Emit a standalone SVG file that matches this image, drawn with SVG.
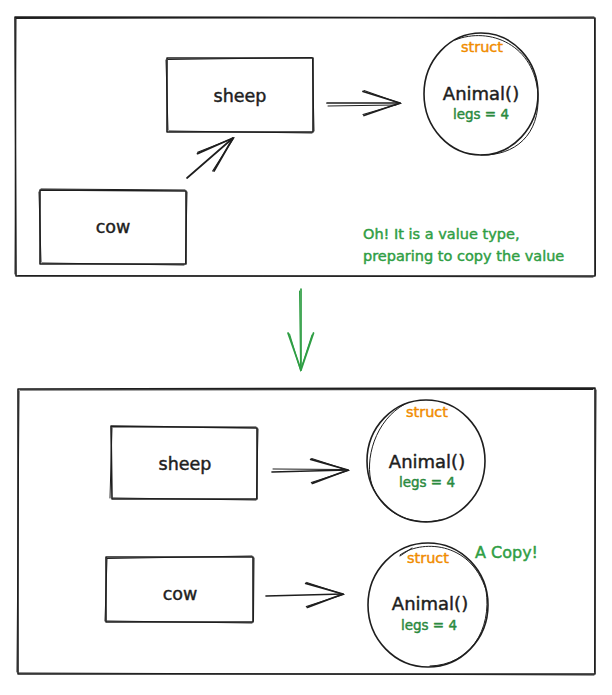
<svg xmlns="http://www.w3.org/2000/svg" width="612" height="695" viewBox="0 0 612 695">
<defs>
<marker id="head" markerUnits="userSpaceOnUse" viewBox="-45 -20 50 40" markerWidth="50" markerHeight="40" refX="0" refY="0" orient="auto">
<path d="M-37,-11.5 L0,0 L-36,12.5" fill="none" stroke="#1e1e1e" stroke-width="1.8" stroke-linecap="round" stroke-linejoin="round"/>
<path d="M-36,-12.5 L0.5,0.5 L-37,11.5" fill="none" stroke="#1e1e1e" stroke-width="1.1" stroke-linecap="round"/>
</marker>
<marker id="headg" markerUnits="userSpaceOnUse" viewBox="-45 -20 50 40" markerWidth="50" markerHeight="40" refX="0" refY="0" orient="auto">
<path d="M-37,-12.5 L0,0 L-37,13" fill="none" stroke="#2f9e44" stroke-width="1.8" stroke-linecap="round" stroke-linejoin="round"/>
<path d="M-35,-11 L0.5,0.5 L-36,11.5" fill="none" stroke="#2f9e44" stroke-width="1.1" stroke-linecap="round"/>
</marker>
</defs>
<style>
.sk{fill:none;stroke:#1e1e1e;stroke-width:1.6;stroke-linecap:round;stroke-linejoin:round}
.sk2{fill:none;stroke:#1e1e1e;stroke-width:1;stroke-linecap:round}
.ln{fill:none;stroke:#1e1e1e;stroke-width:1.7;stroke-linecap:round}
.lg{fill:none;stroke:#2f9e44;stroke-width:1.7;stroke-linecap:round}
text{font-family:"DejaVu Sans","Liberation Sans",sans-serif;stroke-width:0.45;stroke-linejoin:round}
.lbl{font-size:17.5px;fill:#1e1e1e;stroke:#1e1e1e;text-anchor:middle}
.ani{font-size:18px;fill:#1e1e1e;stroke:#1e1e1e;text-anchor:middle}
.st{font-size:14.5px;fill:#f08c00;stroke:#f08c00;text-anchor:middle}
.lgs{font-size:13.5px;fill:#2b8a3e;stroke:#2b8a3e;text-anchor:middle}
.note{font-size:14.5px;fill:#2f9e44;stroke:#2f9e44}
</style>
<rect width="612" height="695" fill="#ffffff"/>

<g id="frame-top">
<path class="sk" d="M15,17 L595,18 L595,276 L16,276 Z"/>
<path class="sk2" d="M16,18.5 L594,17 M594.5,19 L595.5,275 M593,277 L18,275.5 M15,274 L16,19"/>
</g>
<g id="frame-bottom">
<path class="sk" d="M18,389 L595,388 L595,674 L18,674 Z"/>
<path class="sk2" d="M20,390 L593,389.5 M596,390 L594.5,672 M594,675 L19,673 M17,672 L19,391"/>
</g>

<g id="sheep-1">
<path class="sk" d="M167,58 L313,58 L313,132 L167,132 Z"/>
<path class="sk2" d="M168,59.5 L312,57.5 M312.5,59 L314,131 M312,133 L169,131 M168,130 L166,60"/>
<text class="lbl" x="240" y="102">sheep</text>
</g>
<g id="cow-1">
<path class="sk" d="M40,190 L186,191 L186,264 L40,264 Z"/>
<path class="sk2" d="M41,189 L185,190 M187,192 L185.5,263 M184,265 L42,263 M41,262 L39,192"/>
<text class="lbl" x="113" y="233">cow</text>
</g>
<g id="animal-1">
<ellipse class="sk" cx="481" cy="94" rx="57" ry="61"/>
<path class="sk2" d="M455,40 C490,26 535,45 538,95 C540,135 515,156 481,155"/>
<text class="st" x="482" y="52">struct</text>
<text class="ani" x="481" y="100">Animal()</text>
<text class="lgs" x="481" y="119">legs = 4</text>
</g>
<g id="note-1">
<text class="note" x="363" y="239">Oh! It is a value type,</text>
<text class="note" x="363" y="261">preparing to copy the value</text>
</g>

<g id="sheep-2">
<path class="sk" d="M111,426 L257,428 L257,499 L112,499 Z"/>
<path class="sk2" d="M112,427 L256,427 M258,429 L256.5,498 M256,500 L113,498 M110,498 L112,428"/>
<text class="lbl" x="185" y="470">sheep</text>
</g>
<g id="cow-2">
<path class="sk" d="M106,557 L253,557 L253,622 L106,622 Z"/>
<path class="sk2" d="M107,558.5 L252,556 M254,558 L253.5,621 M252,623 L107,621 M105,621 L107,559"/>
<text class="lbl" x="180" y="600">cow</text>
</g>
<g id="animal-2">
<ellipse class="sk" cx="426" cy="461" rx="59" ry="61"/>
<path class="sk2" d="M405,404 C375,420 364,460 372,485 C385,520 420,525 440,520"/>
<text class="st" x="427" y="417">struct</text>
<text class="ani" x="427" y="468">Animal()</text>
<text class="lgs" x="427" y="487">legs = 4</text>
</g>
<g id="animal-3">
<ellipse class="sk" cx="428" cy="605" rx="60" ry="62"/>
<path class="sk2" d="M400,555 C420,540 470,540 486,590 C492,630 470,665 430,666 M400,556 L412,548"/>
<text class="st" x="428" y="563">struct</text>
<text class="ani" x="430" y="610">Animal()</text>
<text class="lgs" x="429" y="630">legs = 4</text>
</g>
<g id="note-2">
<text class="note" x="475" y="558" style="font-size:16px">A Copy!</text>
</g>

<g id="connectors">
<path class="ln" d="M327,103 L400,103" marker-end="url(#head)"/>
<path class="sk2" d="M328,106 L396,105"/>
<path class="ln" d="M187,178 L233,138" marker-end="url(#head)"/>
<path class="lg" d="M301,289 L301,370" marker-end="url(#headg)"/>
<path class="lg" d="M299.5,291 L300.5,366" style="stroke-width:1"/>
<path class="ln" d="M272,472 L348,470" marker-end="url(#head)"/>
<path class="sk2" d="M273,469 L344,469.5"/>
<path class="ln" d="M266,596 L343,594" marker-end="url(#head)"/>
</g>
</svg>
